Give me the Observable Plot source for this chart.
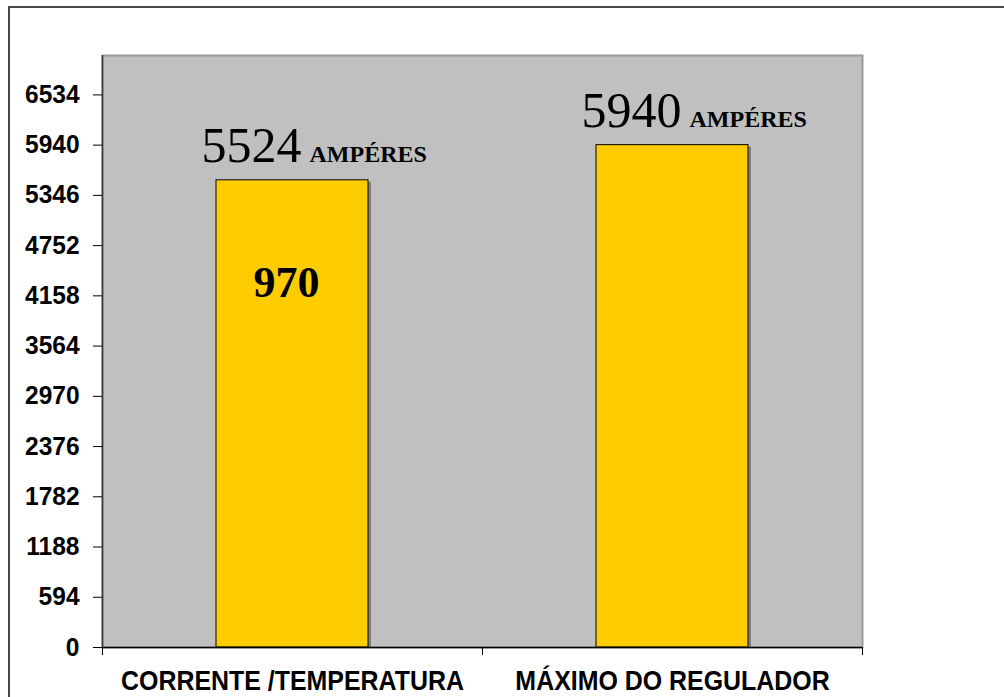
<!DOCTYPE html>
<html>
<head>
<meta charset="utf-8">
<script src="https://cdn.jsdelivr.net/npm/d3@7"></script>
<script src="https://cdn.jsdelivr.net/npm/@observablehq/plot@0.6"></script>
<style>
  html, body { margin: 0; padding: 0; background: #fff; overflow: hidden; }
  #wrap { position: relative; width: 1004px; height: 697px; }
  #border { position: absolute; left: 8px; top: 6px; width: 1200px; height: 900px;
            border-left: 2px solid #4a4a4a; border-top: 2px solid #4a4a4a; }
  #chart { position: absolute; left: 0; top: 0; }
</style>
</head>
<body>
<div id="wrap"><div id="border"></div><div id="chart"></div></div>
<script>
const categories = ["CORRENTE /TEMPERATURA", "MÁXIMO DO REGULADOR"];
const values = [5524, 5940];
const unitLabel = "AMPÉRES";
const innerLabels = ["970", ""];
const yTicks = [0, 594, 1188, 1782, 2376, 2970, 3564, 4158, 4752, 5346, 5940, 6534];
const yMax = 7000;

const data = categories.map((c, i) => ({cat: c, value: values[i], inner: innerLabels[i]}));

const W = 1004, H = 697, mL = 102, mR = 142, mT = 55, mB = 50;
const half = (W - mL - mR) / categories.length / 2;

const sans = "'Liberation Sans', Arial, sans-serif";
const serif = "'Liberation Serif', 'Times New Roman', serif";

const chart = Plot.plot({
  width: W, height: H,
  marginLeft: mL, marginRight: mR, marginTop: mT, marginBottom: mB,
  style: {background: "transparent", color: "#000"},
  x: {domain: categories, paddingInner: 0.6, paddingOuter: 0.3, label: null},
  y: {domain: [0, yMax], label: null},
  marks: [
    Plot.frame({fill: "#C0C0C0", stroke: "#9c9c9c", strokeWidth: 2}),
    Plot.barY(data, {x: "cat", y: "value", fill: "#808080", dx: 3, dy: 2, insetBottom: 2}),
    Plot.barY(data, {x: "cat", y: "value", fill: "#FFCC00", stroke: "#000", strokeWidth: 1}),
    Plot.ruleY([0], {stroke: "#000", strokeWidth: 1.5}),
    Plot.ruleX([categories[0]], {dx: -half, stroke: "#333", strokeWidth: 1.5}),
    Plot.axisY({ticks: yTicks, tickSize: 9, tickPadding: 14, tickFormat: d => String(d),
                fontFamily: sans, fontWeight: "bold", fontSize: 25, stroke: "#000"}),
    Plot.axisX({tickSize: 8, tickFormat: () => "", dx: -half}),
    Plot.axisX({ticks: [categories[categories.length - 1]], tickSize: 8, tickFormat: () => "", dx: half}),
    Plot.axisX({tickSize: 0, tickPadding: 23, fontFamily: sans, fontWeight: "bold", fontSize: 28}),
    Plot.text(data, {x: "cat", y: "value", text: d => String(d.value), textAnchor: "end",
                     lineAnchor: "bottom", dx: 9, dy: -18, fontFamily: serif, fontSize: 50}),
    Plot.text(data, {x: "cat", y: "value", text: () => unitLabel, textAnchor: "start",
                     lineAnchor: "bottom", dx: 17, dy: -18, fontFamily: serif, fontWeight: "bold", fontSize: 24}),
    Plot.text(data, {x: "cat", y: "value", text: "inner", lineAnchor: "middle", dx: -6, dy: 103,
                     fontFamily: serif, fontWeight: "bold", fontSize: 44})
  ]
});
document.getElementById("chart").appendChild(chart);

// condense the heavy sans labels, like the narrow face in the reference
d3.select(chart).selectAll('g[aria-label="x-axis tick label"] text').each(function () {
  if (!this.textContent) return;
  const w = this.getComputedTextLength();
  this.setAttribute("textLength", w * 0.89);
  this.setAttribute("lengthAdjust", "spacingAndGlyphs");
});
d3.select(chart).selectAll('g[aria-label="y-axis tick label"] text').each(function () {
  const w = this.getComputedTextLength();
  this.setAttribute("textLength", w * 0.98);
  this.setAttribute("lengthAdjust", "spacingAndGlyphs");
});
</script>
</body>
</html>
